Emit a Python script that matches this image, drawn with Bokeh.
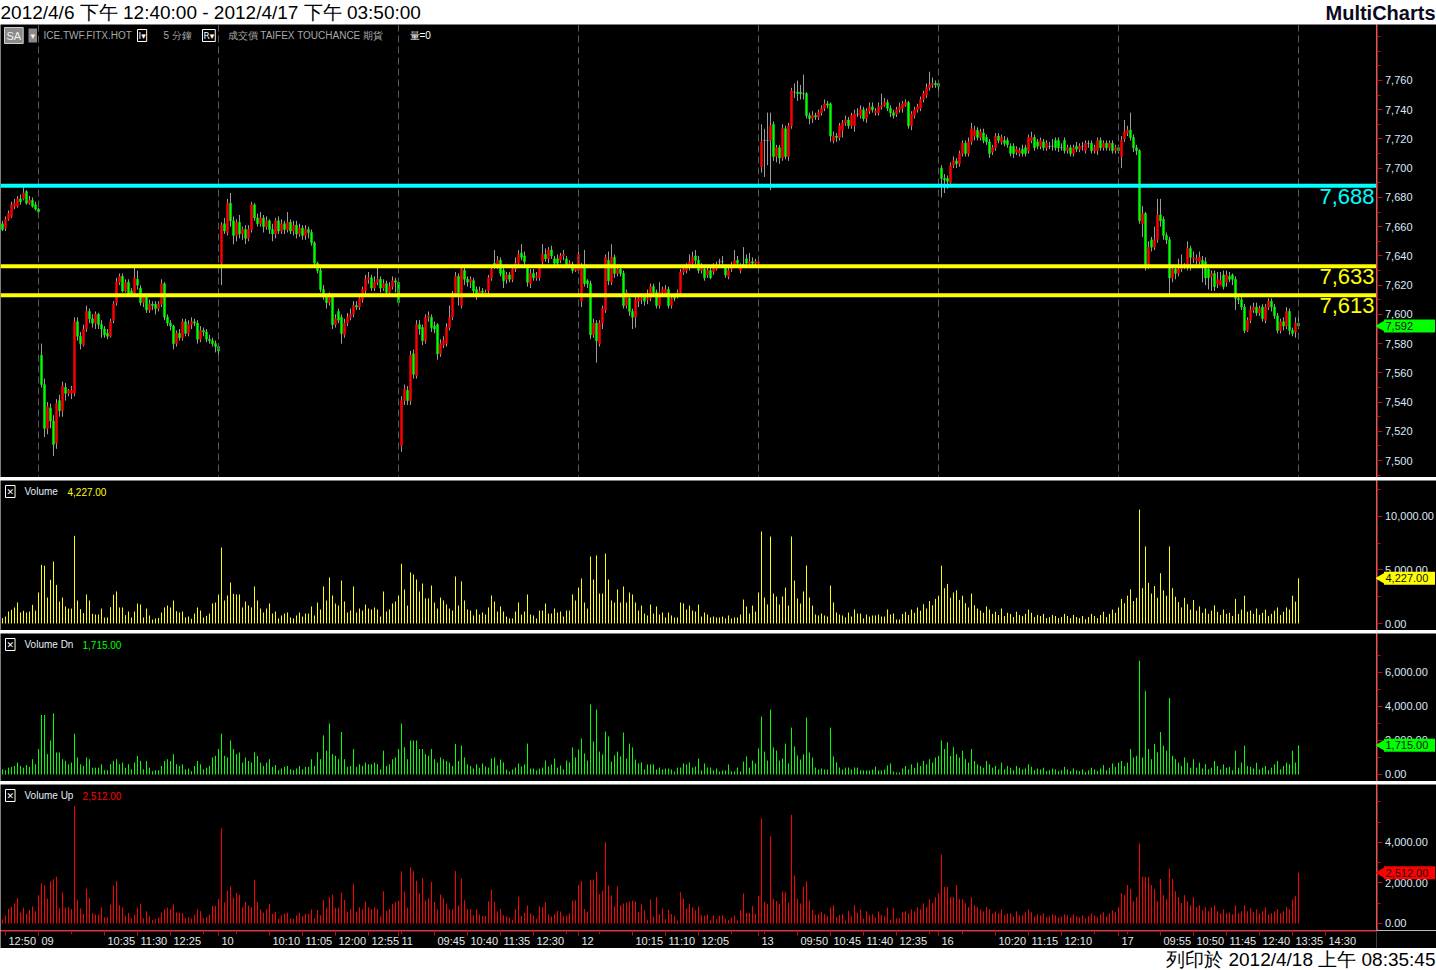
import numpy as np
from bokeh.plotting import figure
from bokeh.models import Range1d, Span, Label, FixedTicker, NumeralTickFormatter, LinearAxis
from bokeh.layouts import column, row
from bokeh.embed import file_html
from bokeh.resources import INLINE
from bokeh.core.properties import value

# ---------------- DATA ----------------
day_labels = ["", "09", "10", "11", "12", "13", "16", "17"]
day_bars = [13, 60, 60, 60, 60, 60, 60, 60]
day_first = ["12:45", "08:50", "08:50", "08:50", "08:50", "08:50", "08:50", "08:50"]
time_labels = [
    ["12:50"],
    ["10:35", "11:30", "12:25"],
    ["10:10", "11:05", "12:00", "12:55"],
    ["09:45", "10:40", "11:35", "12:30"],
    ["10:15", "11:10", "12:05"],
    ["09:50", "10:45", "11:40", "12:35"],
    ["10:20", "11:15", "12:10"],
    ["09:55", "10:50", "11:45", "12:40", "13:35", "14:30"],
]

opens = [
 7662,7659,7665,7667,7674,7674,7679,7679,7684,7676,7678,7675,7672,
 7572,7552,7522,7536,7527,7512,7541,7534,7550,7546,7546,7546,7595,7585,7579,7590,7602,7597,7594,7600,
 7593,7590,7587,7585,7596,7608,7622,7626,7616,7622,7616,7614,7624,7618,7608,7612,7603,7607,7607,7604,
 7607,7621,7598,7594,7592,7580,7587,7584,7595,7587,7593,7595,7594,7583,7589,7588,7583,7582,7580,7578,
 7635,7662,7656,7676,7664,7654,7663,7655,7658,7652,7658,7675,7666,7662,7666,7660,7664,7658,7655,7664,
 7657,7662,7658,7663,7657,7661,7655,7659,7654,7658,7656,7649,7635,7630,7617,7612,7608,7612,7593,7602,
 7598,7586,7594,7598,7600,7606,7605,7610,7616,7624,7625,7618,7622,7624,7618,7621,7615,7619,7623,7622,
 7510,7541,7548,7541,7573,7558,7593,7591,7582,7598,7598,7592,7593,7573,7579,7580,7591,7598,7614,7626,
 7606,7630,7624,7622,7623,7617,7614,7616,7614,7616,7625,7635,7633,7637,7630,7624,7627,7624,7631,7635,
 7642,7640,7632,7621,7628,7625,7625,7636,7641,7638,7644,7638,7638,7637,7640,7638,7634,7634,7630,7630,
 7609,7632,7623,7621,7586,7594,7580,7594,7603,7637,7622,7639,7628,7631,7628,7606,7611,7602,7598,7609,
 7610,7612,7610,7611,7619,7615,7606,7615,7614,7617,7606,7612,7614,7615,7629,7630,7632,7635,7640,7637,
 7630,7631,7627,7630,7629,7631,7636,7636,7632,7626,7631,7634,7637,7630,7634,7638,7635,7636,7635,7635,
 7701,7719,7719,7719,7730,7708,7714,7707,7727,7708,7729,7752,7752,7752,7751,7751,7736,7734,7736,7735,
 7738,7741,7744,7744,7719,7722,7721,7726,7731,7733,7729,7729,7737,7736,7740,7734,7739,7742,7738,7738,
 7742,7743,7745,7741,7738,7737,7740,7741,7743,7745,7729,7736,7740,7741,7747,7750,7755,7757,7758,7758,
 7700,7693,7693,7690,7702,7705,7703,7710,7717,7710,7718,7722,7726,7721,7724,7721,7718,7711,7714,7722,
 7718,7719,7719,7715,7715,7711,7710,7713,7714,7712,7719,7721,7718,7715,7718,7714,7715,7715,7719,7719,
 7714,7719,7712,7714,7710,7715,7713,7715,7712,7717,7717,7712,7712,7719,7714,7717,7714,7717,7712,7714,
 7708,7720,7724,7726,7721,7714,7712,7662,7669,7634,7651,7646,7651,7668,7665,7654,7651,7625,7631,7628,
 7631,7633,7632,7645,7638,7637,7636,7637,7636,7631,7626,7628,7621,7620,7627,7622,7626,7627,7624,7611,
 7610,7605,7589,7596,7603,7605,7601,7605,7596,7605,7609,7605,7599,7589,7595,7592,7602,7589,7588,7594,
]
highs = [
 7664,7667,7671,7677,7679,7681,7682,7687,7685,7681,7680,7677,7673,
 7580,7556,7540,7539,7531,7542,7545,7554,7553,7549,7551,7598,7598,7588,7593,7606,7604,7600,7602,7601,
 7596,7592,7590,7597,7609,7625,7628,7628,7624,7624,7618,7632,7630,7620,7614,7614,7610,7609,7609,7609,
 7624,7622,7600,7596,7593,7589,7590,7597,7597,7596,7598,7597,7596,7592,7591,7590,7586,7584,7582,7580,
 7663,7666,7679,7683,7667,7665,7668,7660,7661,7661,7677,7676,7669,7670,7668,7667,7665,7662,7666,7667,
 7665,7664,7670,7665,7664,7664,7662,7661,7661,7660,7658,7650,7636,7632,7620,7614,7615,7614,7600,7604,
 7600,7597,7601,7604,7609,7609,7614,7619,7627,7629,7627,7626,7632,7626,7624,7623,7622,7626,7625,7624,
 7544,7552,7551,7575,7576,7596,7596,7593,7600,7602,7600,7595,7594,7583,7585,7594,7606,7616,7629,7628,
 7633,7632,7626,7626,7625,7619,7619,7618,7617,7627,7633,7644,7640,7639,7632,7629,7629,7633,7639,7644,
 7648,7643,7634,7631,7631,7629,7634,7648,7645,7646,7647,7640,7641,7642,7644,7640,7637,7636,7634,7643,
 7635,7644,7624,7623,7597,7596,7596,7606,7641,7643,7648,7641,7634,7633,7630,7617,7613,7604,7612,7613,
 7614,7614,7617,7621,7621,7617,7622,7619,7620,7619,7613,7614,7617,7631,7633,7635,7641,7643,7644,7640,
 7635,7633,7633,7632,7635,7636,7638,7640,7634,7632,7636,7644,7640,7635,7646,7641,7642,7639,7638,7638,
 7730,7727,7738,7738,7732,7716,7716,7730,7729,7731,7755,7758,7760,7757,7764,7752,7738,7739,7738,7740,
 7743,7747,7746,7745,7725,7724,7731,7733,7736,7735,7738,7740,7741,7743,7742,7741,7745,7745,7741,7745,
 7751,7748,7747,7743,7740,7742,7745,7746,7747,7746,7739,7742,7744,7749,7753,7758,7766,7762,7760,7759,
 7702,7696,7695,7704,7708,7707,7712,7719,7719,7721,7731,7729,7728,7727,7727,7723,7720,7716,7724,7724,
 7723,7722,7721,7717,7717,7715,7714,7716,7716,7723,7725,7723,7720,7721,7720,7719,7718,7720,7721,7721,
 7717,7721,7716,7716,7716,7718,7717,7718,7719,7719,7719,7716,7721,7721,7719,7719,7719,7719,7716,7716,
 7722,7733,7729,7738,7723,7716,7713,7674,7670,7650,7653,7660,7679,7679,7667,7656,7653,7633,7633,7638,
 7641,7635,7650,7647,7643,7641,7643,7640,7639,7633,7630,7630,7629,7629,7630,7630,7629,7628,7626,7613,
 7612,7607,7598,7606,7608,7608,7606,7607,7607,7611,7611,7607,7601,7597,7598,7605,7604,7591,7598,7602,
]
lows = [
 7657,7657,7664,7666,7672,7673,7675,7678,7675,7675,7673,7671,7667,
 7550,7516,7518,7522,7503,7508,7530,7530,7541,7544,7542,7544,7582,7576,7578,7588,7594,7591,7590,7590,
 7584,7584,7583,7584,7594,7606,7620,7615,7615,7613,7612,7612,7617,7606,7605,7601,7601,7603,7600,7602,
 7605,7596,7592,7589,7576,7578,7582,7582,7585,7585,7590,7592,7580,7581,7585,7581,7580,7578,7574,7572,
 7620,7655,7654,7660,7648,7650,7652,7651,7648,7650,7656,7664,7660,7660,7656,7658,7655,7650,7652,7655,
 7655,7655,7656,7655,7654,7652,7653,7651,7651,7652,7647,7633,7628,7615,7610,7604,7606,7590,7591,7594,
 7580,7584,7592,7596,7598,7603,7603,7608,7614,7621,7616,7616,7620,7615,7616,7612,7613,7617,7615,7606,
 7506,7538,7538,7538,7556,7556,7586,7579,7580,7595,7588,7587,7569,7571,7577,7578,7589,7596,7612,7606,
 7604,7620,7619,7618,7614,7610,7612,7613,7612,7614,7623,7631,7631,7626,7618,7621,7622,7622,7629,7633,
 7637,7633,7619,7618,7623,7623,7623,7634,7636,7635,7638,7633,7633,7635,7637,7632,7632,7628,7629,7628,
 7605,7619,7618,7583,7584,7567,7578,7590,7601,7620,7620,7625,7626,7626,7604,7604,7599,7590,7591,7605,
 7607,7606,7607,7609,7613,7604,7604,7613,7612,7604,7604,7609,7611,7613,7627,7628,7630,7633,7634,7628,
 7628,7623,7625,7624,7627,7630,7633,7634,7625,7624,7629,7632,7633,7628,7632,7633,7633,7633,7633,7634,
 7697,7694,7702,7685,7705,7704,7703,7705,7706,7705,7727,7748,7746,7747,7747,7734,7730,7731,7733,7733,
 7736,7739,7741,7718,7717,7718,7719,7721,7729,7727,7727,7725,7735,7734,7732,7731,7737,7738,7736,7736,
 7740,7742,7739,7735,7734,7735,7738,7738,7742,7727,7726,7734,7738,7739,7745,7748,7753,7755,7755,7753,
 7680,7683,7686,7688,7700,7700,7701,7708,7708,7708,7716,7719,7719,7719,7717,7716,7707,7709,7712,7717,
 7716,7715,7714,7708,7707,7709,7708,7708,7708,7710,7717,7712,7713,7713,7712,7712,7713,7712,7712,7711,
 7712,7710,7710,7708,7708,7711,7711,7712,7710,7714,7710,7710,7709,7712,7712,7712,7712,7710,7710,7710,
 7700,7718,7722,7719,7711,7709,7662,7653,7630,7631,7643,7644,7649,7660,7651,7648,7614,7622,7624,7626,
 7629,7631,7630,7630,7635,7634,7634,7622,7620,7617,7616,7616,7618,7620,7617,7619,7622,7620,7603,7607,
 7603,7587,7588,7594,7601,7599,7599,7595,7594,7603,7602,7597,7587,7587,7589,7590,7586,7585,7584,7590,
]
closes = [
 7658,7665,7669,7675,7676,7679,7677,7683,7676,7678,7674,7672,7670,
 7552,7522,7537,7527,7511,7539,7534,7551,7546,7548,7548,7595,7585,7580,7590,7602,7597,7594,7600,7593,
 7590,7586,7585,7595,7607,7622,7626,7616,7622,7614,7614,7625,7620,7608,7612,7603,7607,7606,7604,7607,
 7621,7598,7594,7592,7580,7587,7584,7595,7587,7593,7595,7594,7583,7589,7588,7583,7582,7580,7578,7575,
 7661,7657,7676,7664,7654,7663,7655,7658,7652,7658,7675,7666,7662,7666,7660,7664,7658,7655,7664,7657,
 7662,7658,7663,7657,7661,7655,7659,7654,7658,7656,7649,7635,7630,7617,7612,7608,7612,7593,7597,7596,
 7587,7594,7598,7600,7606,7605,7611,7617,7624,7625,7618,7622,7624,7618,7621,7615,7619,7623,7622,7608,
 7541,7549,7541,7572,7559,7593,7590,7582,7598,7599,7591,7590,7573,7580,7582,7591,7598,7614,7626,7615,
 7631,7624,7622,7624,7616,7614,7616,7615,7615,7625,7631,7633,7637,7628,7623,7627,7624,7631,7635,7641,
 7639,7636,7622,7628,7625,7626,7632,7641,7638,7644,7640,7635,7635,7640,7641,7634,7635,7630,7632,7641,
 7633,7621,7621,7586,7594,7582,7594,7604,7639,7623,7639,7628,7631,7628,7606,7615,7602,7598,7610,7611,
 7611,7609,7611,7619,7615,7606,7615,7617,7617,7606,7611,7611,7615,7629,7631,7632,7636,7639,7637,7630,
 7632,7625,7630,7625,7632,7632,7636,7636,7627,7630,7634,7637,7635,7633,7634,7635,7636,7635,7636,7636,
 7718,7719,7719,7729,7708,7714,7707,7727,7708,7729,7753,7752,7751,7751,7751,7736,7734,7736,7735,7738,
 7741,7744,7743,7722,7722,7721,7729,7731,7733,7729,7736,7737,7737,7740,7734,7739,7742,7740,7739,7742,
 7743,7745,7741,7738,7736,7740,7742,7744,7745,7729,7737,7740,7742,7747,7751,7755,7757,7758,7757,7756,
 7693,7692,7691,7702,7705,7703,7710,7717,7710,7718,7727,7726,7721,7725,7719,7718,7710,7714,7722,7719,
 7721,7717,7716,7710,7710,7713,7712,7710,7710,7721,7721,7714,7715,7719,7714,7717,7715,7715,7714,7714,
 7714,7712,7714,7710,7714,7713,7715,7715,7717,7717,7712,7714,7719,7714,7717,7714,7717,7712,7714,7712,
 7719,7725,7726,7721,7714,7712,7664,7669,7634,7646,7646,7651,7668,7664,7654,7651,7625,7631,7628,7631,
 7633,7633,7645,7639,7639,7638,7639,7634,7625,7625,7628,7619,7624,7623,7619,7627,7624,7624,7611,7610,
 7605,7589,7596,7603,7605,7601,7604,7597,7605,7609,7605,7599,7589,7595,7592,7602,7589,7587,7594,7592,
]

vol_total = [
 500,650,1120,1280,1500,1960,1030,1180,1030,1120,1740,1210,2900,
 5480,5390,2430,4080,5790,3610,2060,2430,1590,1400,1400,8190,2150,1340,970,2710,2150,900,840,840,
 1400,560,560,1530,2680,2990,1500,1500,780,1120,560,1120,1870,1780,560,1400,750,370,470,530,
 1030,1500,1680,1500,2150,1150,1030,1120,560,650,440,930,1500,1210,560,720,930,1870,1960,2710,
 7100,2150,2620,3830,2770,2710,2710,1500,2060,1680,1500,3460,2150,1400,1030,1400,1870,930,1120,470,
 750,930,1030,560,470,750,1030,650,930,930,1590,750,1960,1310,3460,2150,4300,2620,1870,1680,
 4020,2060,1030,1210,3460,1030,1400,1210,1780,1400,1310,1500,1310,650,2990,1120,1310,1870,2060,2620,
 5580,3180,1680,4770,4580,4110,2990,3740,2340,2340,3550,1960,1400,2430,2150,1780,1400,1210,4390,1680,
 3930,2150,1310,1210,750,1310,840,
 1030,840,1500,2620,2060,1120,1590,1120,650,470,
 470,1120,1960,840,1120,2710,840,750,470,1210,
 1210,1870,930,930,1400,1030,1120,650,1210,1210,
 2710,2150,3360,4210,1960,1400,6260,4110,6360,2800,
 2800,6540,4110,2150,1960,3180,1960,3460,1960,2900,
 2710,1960,1210,1680,930,750,1780,930,1590,840,
 1030,560,1030,750,560,560,1960,1870,1310,1680,
 1210,1120,1780,650,1030,840,560,650,560,560,
 650,470,750,470,560,560,840,2240,1590,930,
 1680,1120,2900,8600,2430,1780,8130,2800,2520,1780,
 2520,3360,1680,8130,4020,2340,1870,2990,5420,2430,
 1680,840,750,930,750,650,3550,1960,1030,840,
 750,560,1030,650,1310,930,930,470,840,650,
 750,750,840,650,650,1310,840,930,370,370,
 900,1100,800,1300,1000,1500,1200,1800,1400,2100,1700,2300,2600,
 5400,3300,3700,2400,2900,3100,2200,2600,1900,1500,2800,1700,1400,1200,1000,1600,1300,900,1100,800,
 1400,700,1000,900,600,1100,800,700,900,1300,1000,600,800,700,900,500,600,800,700,500,
 600,900,700,500,800,600,500,700,400,600,900,700,500,800,1100,600,900,1300,1000,1500,
 2300,1900,2600,3200,2100,2400,10650,3300,7200,3800,2800,3500,2400,4700,3100,2600,7200,3300,2500,2000,
 1500,2400,1800,1300,2200,1200,1600,1000,1400,900,1200,1700,1100,800,1300,900,1000,700,2300,900,
 1300,2600,1100,1200,900,1400,800,1000,1300,700,900,1200,1500,800,1100,1500,1300,2600,2050,4227,
]
vol_down = [
 300,250,400,450,500,700,500,400,550,450,900,600,1500,
 3500,3500,1200,2000,3600,1300,1300,900,800,600,700,2400,1000,600,500,1000,900,400,400,400,
 600,250,250,600,800,900,600,700,400,600,300,700,1100,800,300,800,400,200,250,250,
 500,800,900,800,1200,600,500,600,300,350,200,500,800,600,300,400,500,1000,1100,1500,
 2400,1100,1000,2000,1500,1200,1300,700,1000,800,700,1300,1100,700,500,700,900,450,550,250,
 350,450,500,300,250,350,500,300,450,450,900,500,1300,900,2300,1400,3000,1200,1100,900,
 2500,900,450,500,1500,450,600,500,700,600,600,700,600,300,1400,500,600,900,1000,1500,
 3000,1600,900,2000,2000,2000,1500,1500,1200,1100,1500,900,700,1000,900,800,700,500,1800,800,
 1700,1000,600,500,350,600,400,
 650,470,410,940,1000,530,880,710,290,180,
 290,410,650,470,590,1820,350,350,240,350,
 410,820,470,590,940,410,530,290,820,710,
 1590,1000,1470,2120,1240,820,4120,1940,3820,1350,
 1180,2530,2240,760,1120,1350,1060,2470,940,1820,
 1590,880,650,710,290,590,590,600,290,410,
 290,350,350,290,180,410,410,650,590,710,
 410,470,940,240,650,410,410,240,350,180,
 240,240,590,180,180,410,180,760,1060,410,
 820,650,1530,3410,1350,820,3820,1590,1410,820,
 940,1820,650,2760,1650,1120,880,1180,3350,1290,
 1000,410,290,350,290,290,2760,1060,710,410,
 290,410,410,290,410,410,240,240,240,240,
 290,470,240,240,290,530,650,180,120,120,
 350,500,300,600,400,700,500,800,600,900,700,1000,1100,
 2000,1500,1900,1100,1600,1200,1000,1400,900,700,1500,800,600,500,400,800,600,400,500,300,
 700,300,500,400,250,500,400,300,350,600,450,250,350,300,400,200,250,350,300,200,
 250,450,300,200,350,250,200,300,150,250,400,300,200,350,550,250,400,650,450,700,
 800,500,700,1500,1000,1100,6700,1000,4900,1500,900,1800,1300,2500,1700,1400,4500,1100,900,700,
 500,1000,700,400,900,400,700,350,600,300,400,800,500,300,600,400,450,250,1400,400,
 700,1700,500,450,350,700,300,400,500,250,400,600,800,300,500,700,600,1410,700,1715,
]
levels = [7688, 7633, 7613]
level_colors = ["#00ffff", "#ffff00", "#ffff00"]

# ---------------- DERIVED ----------------
o = np.array(opens, float); h = np.array(highs, float)
l = np.array(lows, float); c = np.array(closes, float)
n = len(c)
x = np.arange(n)
vt = np.array(vol_total, float); vd = np.array(vol_down, float)
vu = vt - vd
colors = ["#ff0000" if cc > oo else ("#00ff00" if cc < oo else "#b4b4b4") for oo, cc in zip(o, c)]

ends = np.cumsum(day_bars)
starts = np.concatenate([[0], ends[:-1]])
last_bars = ends - 1

def mins(t):
    hh, mm = t.split(":")
    return int(hh) * 60 + int(mm)

tick_pos, tick_txt = [], []
for d in range(len(day_bars)):
    if day_labels[d]:
        tick_pos.append(starts[d] - 1); tick_txt.append(day_labels[d])
    for t in time_labels[d]:
        tick_pos.append(starts[d] + (mins(t) - mins(day_first[d])) // 5)
        tick_txt.append(t)
minor_time = list(range(1, 450, 11))

# ---------------- LAYOUT ----------------
W = 1436; AX = 60; FW = W - AX
FONT = "Liberation Sans"
X0 = -2.0 / 3
X1 = X0 + FW / 3.0
xr = Range1d(X0, X1)
AXC = "#e00000"

def lab(p, xx, yy, text, color, size="10px", align="left", baseline="middle", bg=None,
        border=None, style="normal", yu="screen", yoff=0, pad=0, font=FONT):
    kw = dict(x=xx, y=yy, x_units="screen", y_units=yu, text=text, text_color=color,
              text_font_size=size, text_font=font, text_align=align, text_baseline=baseline,
              text_font_style=style, y_offset=yoff)
    if bg:
        kw["background_fill_color"] = bg
    if border:
        kw["border_line_color"] = border
    if pad:
        kw["padding"] = pad
    p.add_layout(Label(**kw))

def fmt_val(v, fmt):
    return f"{v:,.2f}" if fmt.endswith(".00") else f"{int(round(v)):,}"

def panel(hgt, y0, y1, ticks, minor, fmt, last, tag_col):
    yr = Range1d(y0, y1)
    main = figure(frame_width=FW, frame_height=hgt, x_range=xr, y_range=yr,
                  x_axis_location=None, y_axis_location=None,
                  output_backend="svg", toolbar_location=None, min_border=0,
                  background_fill_color="black", border_fill_color="black",
                  outline_line_color=None)
    main.grid.visible = False
    # price-scale strip: a real axis pinned to the strip's left edge
    side = figure(frame_width=AX, frame_height=hgt, x_range=Range1d(0, AX), y_range=yr,
                  x_axis_location=None, y_axis_location=None,
                  output_backend="svg", toolbar_location=None, min_border=0,
                  background_fill_color="black", border_fill_color="black",
                  outline_line_color=None)
    side.grid.visible = False
    ax = LinearAxis(fixed_location=0.5, ticker=FixedTicker(ticks=ticks, minor_ticks=minor),
                    formatter=NumeralTickFormatter(format=fmt))
    ax.axis_line_color = AXC
    ax.major_tick_line_color = AXC
    ax.minor_tick_line_color = AXC
    ax.major_tick_in = 0; ax.major_tick_out = 5
    ax.minor_tick_in = 0; ax.minor_tick_out = 3
    ax.major_label_text_color = "#dfe8f7"
    ax.major_label_text_font = FONT
    ax.major_label_text_font_size = "11px"
    ax.major_label_standoff = 3
    side.add_layout(ax, "right")
    # last-value tag on the scale
    side.rect(x=[33], y=[last], width=51, height=13, width_units="screen",
              height_units="screen", fill_color=tag_col, line_color=None, level="overlay")
    side.scatter(x=[5], y=[last], marker="triangle", angle=np.pi / 2, size=11,
                 fill_color=tag_col, line_color=None, level="overlay")
    side.text(x=[9], y=[last], text=[fmt_val(last, fmt)], text_color="#101010",
              text_font=value(FONT), text_font_size="11px", text_baseline="middle",
              text_align="left", level="overlay")
    return main, side

def blank(hgt, bg):
    p = figure(frame_width=W, frame_height=hgt, x_range=Range1d(0, 1), y_range=Range1d(0, 1),
               x_axis_location=None, y_axis_location=None, output_backend="svg",
               toolbar_location=None, min_border=0, background_fill_color=bg,
               border_fill_color=bg, outline_line_color=None)
    p.grid.visible = False
    return p

# Title band
H_T = 24
top = blank(H_T, "white")
lab(top, 0, H_T / 2, "2012/4/6 下午 12:40:00 - 2012/4/17 下午 03:50:00", "#000000", size="19px")
lab(top, W - 1, H_T / 2, "MultiCharts", "#0a0a1e", size="20px", align="right", style="bold")

# Price panel
H_P = 453
pp, pp_side = panel(H_P, 7488.4, 7798.3, list(range(7500, 7780, 20)),
                    list(range(7490, 7800, 10)), "0,0", c[-1], "#00ff00")
for b in last_bars:
    pp.add_layout(Span(location=b, dimension="height", line_color="#5a5a5a",
                       line_dash="7 4", line_width=1))
pp.segment(x, h, x, l, line_color="#9c9c9c", line_width=1)
pp.vbar(x=x, width=0.6, top=np.maximum(o, c), bottom=np.minimum(o, c),
        fill_color=colors, line_color=colors, line_width=0.6)
for lv, lc in zip(levels, level_colors):
    pp.add_layout(Span(location=lv, dimension="width", line_color=lc, line_width=4))
    lab(pp, FW - 2, lv, f"{lv:,}", lc, size="22px", align="right", baseline="top",
        yu="data", yoff=-3)
hy = H_P - 11
lab(pp, 4, hy, "SA", "#f0f0f0", size="11px", bg="#8a8a8a", border="#d0d0d0", pad=2)
lab(pp, 28, hy, "▾", "#f0f0f0", size="9px", bg="#8a8a8a", pad=2, font="DejaVu Sans")
lab(pp, 43, hy, "ICE.TWF.FITX.HOT", "#a8a8a8", size="10px")
lab(pp, 137, hy, "I▾", "#ffffff", size="9px", border="#ffffff", pad=1, font="DejaVu Sans")
lab(pp, 163, hy, "5 分鐘", "#a8a8a8", size="10px")
lab(pp, 202, hy, "R▾", "#ffffff", size="9px", border="#ffffff", pad=1, font="DejaVu Sans")
lab(pp, 227, hy, "成交價  TAIFEX  TOUCHANCE  期貨", "#a8a8a8", size="10px")
lab(pp, 409, hy, "量=0", "#ffffff", size="10px")

def sub_panel(hgt, y0, y1, ticks, minor, vals, col, name):
    p, s = panel(hgt, y0, y1, ticks, minor, "0,0.00", vals[-1], col)
    p.segment(x, 0, x, vals, line_color=col, line_width=1)
    yy = hgt - 11
    lab(p, 5, yy, "✕", "#ffffff", size="9px", border="#ffffff", pad=1, font="DejaVu Sans")
    lab(p, 24, yy, name, "#e4ecf8", size="10px")
    lab(p, 24 + 13 + 5 * len(name), yy, f"{vals[-1]:,.2f}", col, size="10px")
    return p, s

pv, pv_side = sub_panel(150, -654, 13364, [0, 5000, 10000], [2500, 7500, 12500], vt,
                        "#ffff00", "Volume")
pd_, pd_side = sub_panel(148, -412, 8294, [0, 2000, 4000, 6000], [1000, 3000, 5000, 7000],
                         vd, "#00ff00", "Volume Dn")
pu, pu_side = sub_panel(146, -346, 6864, [0, 2000, 4000], [1000, 3000, 5000, 6000], vu,
                        "#ff0000", "Volume Up")

# Time axis row
H_X = 18
px = figure(frame_width=FW, frame_height=H_X, x_range=xr, y_range=Range1d(0, 1),
            x_axis_location=None, y_axis_location=None, output_backend="svg",
            toolbar_location=None, min_border_left=0, min_border_right=AX,
            min_border_top=0, min_border_bottom=0, background_fill_color="black",
            border_fill_color="black", outline_line_color=None)
px.grid.visible = False
px.add_layout(Span(location=0.97, dimension="width", line_color=AXC, line_width=1.5))
px.segment(minor_time, 1, minor_time, 0.8, line_color=AXC, line_width=1)
px.segment(tick_pos, 1, tick_pos, 0.72, line_color=AXC, line_width=1)
px.text(x=tick_pos, y=[0.4] * len(tick_pos), text=tick_txt, x_offset=3,
        text_align="left", text_baseline="middle", text_color="#e6e6e6",
        text_font=value(FONT), text_font_size="11px")

# Footer
H_F = 22
foot = blank(H_F, "white")
lab(foot, W - 1, H_F / 2, "列印於 2012/4/18 上午 08:35:45", "#000000", size="19px", align="right")

sep1 = blank(3, "#cfcfcf"); sep2 = blank(3, "#cfcfcf"); sep3 = blank(3, "#cfcfcf")

layout = column(top,
                row(pp, pp_side, spacing=0), sep1,
                row(pv, pv_side, spacing=0), sep2,
                row(pd_, pd_side, spacing=0), sep3,
                row(pu, pu_side, spacing=0),
                px, foot, spacing=0)
open("out.html", "w").write(file_html(layout, INLINE))
